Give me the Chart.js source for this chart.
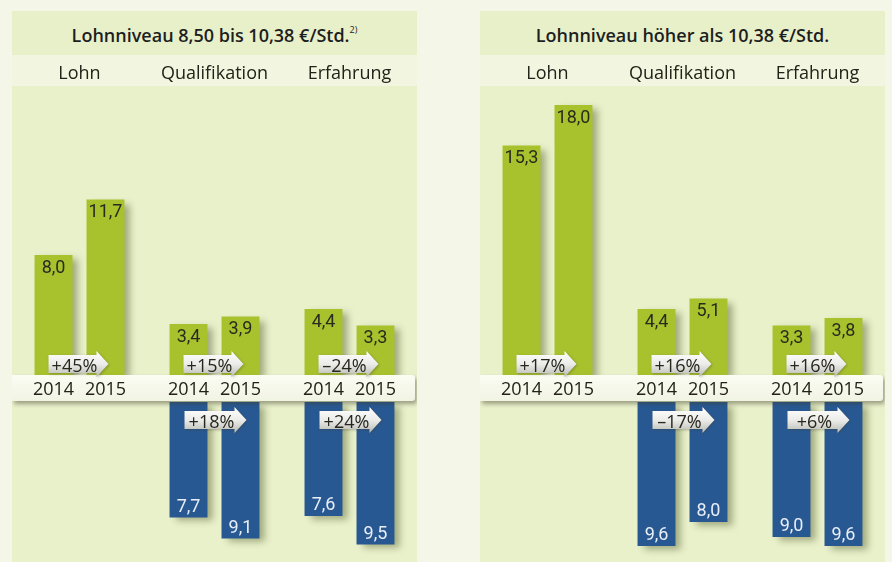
<!DOCTYPE html>
<html lang="de">
<head>
<meta charset="utf-8">
<script src="https://cdn.jsdelivr.net/npm/chart.js@4.4.1/dist/chart.umd.min.js"></script>
<style>
  html, body { margin: 0; padding: 0; }
  body { width: 892px; height: 562px; background: #f4f6e8; position: relative; overflow: hidden; font-family: "Open Sans", sans-serif; }
  .panel { position: absolute; top: 11px; width: 405px; height: 551px; }
  .title { height: 44px; background: #e8f0ca; text-align: center; font-weight: 600; font-size: 18px; line-height: 49px; color: #1e1e1e; white-space: nowrap; overflow: hidden; }
  .title sup { font-size: 9px; font-weight: 400; vertical-align: baseline; position: relative; top: -9px; }
  .plot { position: relative; height: 507px; background: linear-gradient(#f2f6e0 0, #f2f6e0 31px, #e9f1cb 31px); }
</style>
</head>
<body>
<div class="panel" style="left:12px">
  <div class="title">Lohnniveau 8,50 bis 10,38 €/Std.<sup>2)</sup></div>
  <div class="plot"><canvas id="lowChart"></canvas></div>
</div>
<div class="panel" style="left:480px">
  <div class="title">Lohnniveau höher als 10,38 €/Std.</div>
  <div class="plot"><canvas id="highChart"></canvas></div>
</div>
<script>
const CATEGORIES = ['Lohn', 'Qualifikation', 'Erfahrung'];
const YEARS = ['2014', '2015'];

// Lohnniveau 8,50 bis 10,38 €/Std.
const lowGreen2014 = [8.0, 3.4, 4.4];
const lowGreen2015 = [11.7, 3.9, 3.3];
const lowGreenChange = [45, 15, -24];
const lowBlue2014 = [null, 7.7, 7.6];
const lowBlue2015 = [null, 9.1, 9.5];
const lowBlueChange = [null, 18, 24];

// Lohnniveau höher als 10,38 €/Std.
const highGreen2014 = [15.3, 4.4, 3.3];
const highGreen2015 = [18.0, 5.1, 3.8];
const highGreenChange = [17, 16, 16];
const highBlue2014 = [null, 9.6, 9.0];
const highBlue2015 = [null, 8.0, 9.6];
const highBlueChange = [null, -17, 6];

const GREEN = '#a8c22e';
const BLUE = '#285892';
const GAP = 1.8;      // room for the year band, in value units
const Y_MIN = -12.47;
const Y_MAX = 19.27;

const fmtValue = v => v.toFixed(1).replace('.', ',');
const fmtChange = p => (p < 0 ? '\u2013' : '+') + Math.abs(p) + '%';

// grey-white arrow with a percent label
function drawArrow(ctx, x0, x1, top, bottom, text) {
  const head = 12;
  const mid = (top + bottom) / 2;
  ctx.save();
  ctx.shadowColor = 'rgba(60,60,40,0.35)';
  ctx.shadowBlur = 3;
  ctx.shadowOffsetX = 1;
  ctx.shadowOffsetY = 1;
  const grad = ctx.createLinearGradient(0, top - 4, 0, bottom + 4);
  grad.addColorStop(0, '#ffffff');
  grad.addColorStop(0.5, '#ececea');
  grad.addColorStop(1, '#b9bab2');
  ctx.fillStyle = grad;
  ctx.beginPath();
  ctx.moveTo(x0, top);
  ctx.lineTo(x1 - head, top);
  ctx.lineTo(x1 - head, top - 4);
  ctx.lineTo(x1, mid);
  ctx.lineTo(x1 - head, bottom + 4);
  ctx.lineTo(x1 - head, bottom);
  ctx.lineTo(x0, bottom);
  ctx.closePath();
  ctx.fill();
  ctx.restore();
  ctx.fillStyle = '#26261c';
  ctx.font = '18px "Open Sans", sans-serif';
  ctx.textAlign = 'center';
  ctx.textBaseline = 'alphabetic';
  ctx.fillText(text, (x0 + x1 - head) / 2 + 2, bottom - 1);
}

function makeChart(id, green2014, green2015, blue2014, blue2015, greenChange, blueChange) {
  const decor = {
    id: 'decor',
    beforeDatasetsDraw(chart) {
      const ctx = chart.ctx;
      ctx.save();
      ctx.shadowColor = 'rgba(70,80,30,0.45)';
      ctx.shadowBlur = 7;
      ctx.shadowOffsetX = 6;
      ctx.shadowOffsetY = 4;
    },
    afterDatasetsDraw(chart) {
      const ctx = chart.ctx;
      ctx.restore();
      const y = chart.scales.y;
      const zero = y.getPixelForValue(0);
      const bandBottom = y.getPixelForValue(-GAP);
      const w = chart.width;

      // year band
      ctx.save();
      ctx.shadowColor = 'rgba(60,60,40,0.45)';
      ctx.shadowBlur = 4;
      ctx.shadowOffsetX = 2;
      ctx.shadowOffsetY = 3;
      const bg = ctx.createLinearGradient(0, zero, 0, bandBottom);
      bg.addColorStop(0, '#fbfcf3');
      bg.addColorStop(1, '#f1f3e3');
      ctx.fillStyle = bg;
      ctx.beginPath();
      ctx.roundRect(0, zero, w - 2, bandBottom - zero - 1, [0, 3, 3, 0]);
      ctx.fill();
      ctx.restore();

      const metas = [0, 1, 2, 3, 4, 5].map(i => chart.getDatasetMeta(i));
      const bandMid = (zero + bandBottom) / 2;

      ctx.font = '18px "Open Sans", sans-serif';
      ctx.fillStyle = '#222218';
      ctx.textAlign = 'center';
      ctx.textBaseline = 'middle';
      CATEGORIES.forEach((c, j) => {
        YEARS.forEach((yr, k) => {
          ctx.fillText(yr, metas[k].data[j].x, bandMid + 1);
        });
      });

      // value labels
      ctx.font = '18px Roboto, sans-serif';
      [0, 1].forEach(k => {
        const vals = k === 0 ? green2014 : green2015;
        vals.forEach((v, j) => {
          const el = metas[k].data[j];
          ctx.fillStyle = '#2a2a1e';
          ctx.fillText(fmtValue(v), el.x, el.y + 13);
        });
      });
      [4, 5].forEach(k => {
        const vals = k === 4 ? blue2014 : blue2015;
        vals.forEach((v, j) => {
          if (v == null) return;
          const el = metas[k].data[j];
          ctx.fillStyle = '#e8eef7';
          ctx.fillText(fmtValue(v), el.x, el.y - 10);
        });
      });

      // change arrows
      greenChange.forEach((p, j) => {
        if (p == null) return;
        drawArrow(ctx, metas[0].data[j].x - 5, metas[1].data[j].x + 3, zero - 20, zero - 2, fmtChange(p));
      });
      blueChange.forEach((p, j) => {
        if (p == null) return;
        drawArrow(ctx, metas[4].data[j].x - 4, metas[5].data[j].x + 6, bandBottom + 9, bandBottom + 27, fmtChange(p));
      });
    }
  };

  const spacer = CATEGORIES.map(() => -GAP);
  const neg = arr => arr.map(v => (v == null ? null : -v));

  return new Chart(document.getElementById(id), {
    type: 'bar',
    data: {
      labels: CATEGORIES,
      datasets: [
        { label: YEARS[0], stack: YEARS[0], data: green2014, backgroundColor: GREEN },
        { label: YEARS[1], stack: YEARS[1], data: green2015, backgroundColor: GREEN },
        { label: 'band', stack: YEARS[0], data: spacer, backgroundColor: 'rgba(0,0,0,0)' },
        { label: 'band', stack: YEARS[1], data: spacer, backgroundColor: 'rgba(0,0,0,0)' },
        { label: YEARS[0], stack: YEARS[0], data: neg(blue2014), backgroundColor: BLUE },
        { label: YEARS[1], stack: YEARS[1], data: neg(blue2015), backgroundColor: BLUE }
      ]
    },
    options: {
      responsive: true,
      maintainAspectRatio: false,
      animation: false,
      events: [],
      categoryPercentage: 0.77,
      barPercentage: 0.73,
      layout: { padding: 0 },
      plugins: { legend: { display: false }, tooltip: { enabled: false } },
      scales: {
        x: {
          position: 'top',
          grid: { display: false, drawTicks: false },
          border: { display: false },
          ticks: { color: '#222218', font: { family: 'Open Sans', size: 18 }, padding: 1 },
          afterFit: axis => { axis.height = 31; }
        },
        y: {
          display: false,
          stacked: true,
          min: Y_MIN,
          max: Y_MAX
        }
      }
    },
    plugins: [decor]
  });
}

makeChart('lowChart', lowGreen2014, lowGreen2015, lowBlue2014, lowBlue2015, lowGreenChange, lowBlueChange);
makeChart('highChart', highGreen2014, highGreen2015, highBlue2014, highBlue2015, highGreenChange, highBlueChange);
</script>
</body>
</html>
